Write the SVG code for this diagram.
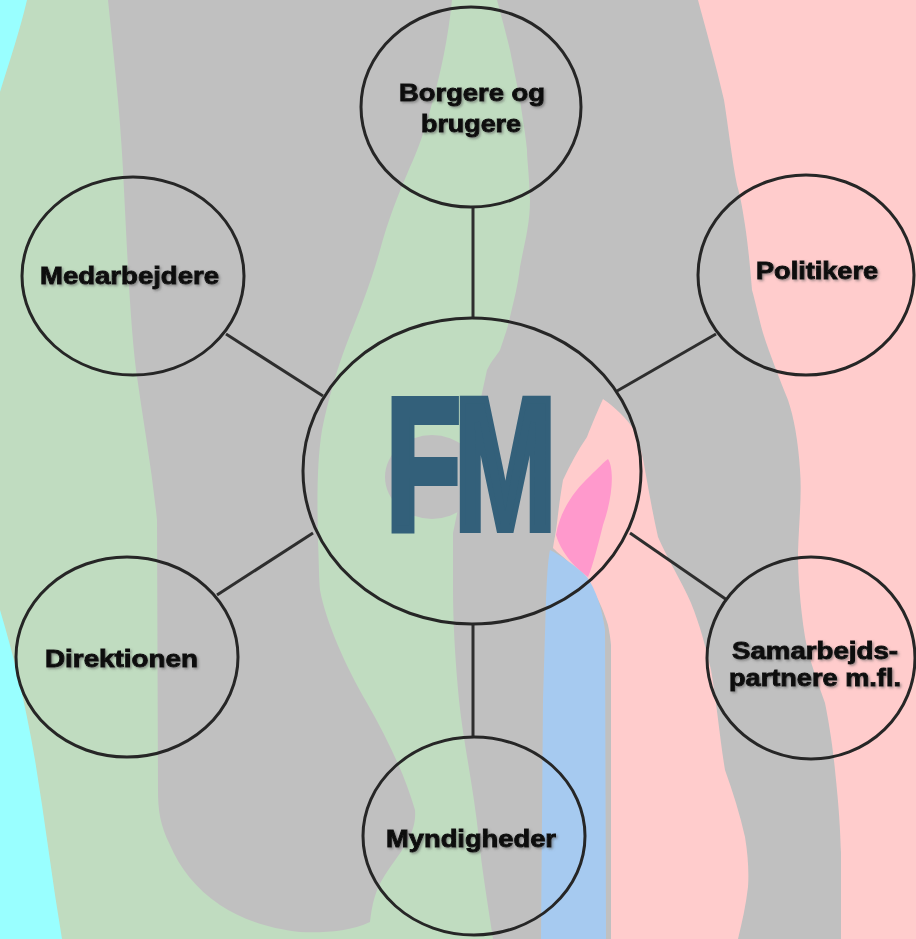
<svg xmlns="http://www.w3.org/2000/svg" width="916" height="939" viewBox="0 0 916 939">
  <defs>
    <style>
      .bg-green { fill: #c0dcc0; }
      .bg-gray { fill: #c0c0c0; }
      .bg-pink { fill: #ffcccc; }
      .bg-cyan { fill: #99ffff; }
      .bg-blue { fill: #a6caf0; }
      .bg-hot { fill: #ff99cc; }
      .node { fill: none; stroke: #262626; stroke-width: 3; }
      .conn { stroke: #2e2e2e; stroke-width: 3; fill: none; }
      .label { font-family: "Liberation Sans", Arial, sans-serif; font-weight: bold; font-size: 24px; fill: #111111; stroke: #111111; stroke-width: 0.9; text-anchor: start; filter: url(#shadow); }
      .fm { font-family: "Liberation Sans", Arial, sans-serif; font-weight: bold; font-size: 187px; fill: #33607a; stroke: #33607a; stroke-width: 8; stroke-linejoin: miter; }
    </style>
    <filter id="shadow" x="-10%" y="-30%" width="120%" height="160%">
      <feDropShadow dx="1.5" dy="1.5" stdDeviation="0.8" flood-color="#555555" flood-opacity="0.55"/>
    </filter>
  </defs>

  <g id="background">
    <rect class="bg-green" x="0" y="0" width="916" height="939"/>
    <path class="bg-cyan" d="M0,0 L27,0 C20,30 10,60 0,92 Z"/>
    <path class="bg-cyan" d="M0,610 C12,650 25,700 35,760 C45,820 52,880 62,939 L0,939 Z"/>
    <path class="bg-gray" d="M108,0 L452,0 C448,40 440,75 433,100 C425,130 418,150 410,167 C398,195 388,220 380,250 C370,285 360,310 350,335 C338,365 328,400 322,430 C317,460 317,500 318,540 C319,565 319,580 320,590 C326,622 345,665 367,703 C387,738 405,775 415,810 C417,835 400,852 385,875 C375,890 372,905 370,922 C350,932 320,933 300,932 C265,928 240,918 220,905 C195,888 180,868 170,845 C160,825 158,810 158,790 L157,520 C152,470 143,420 136,370 C130,320 127,250 123,170 C120,110 113,50 108,0 Z"/>
    <ellipse class="bg-gray" cx="432" cy="477" rx="47" ry="42"/>
    <path class="bg-gray" d="M497,0 L916,0 L916,939 L493,939 C488,905 482,870 479,840 C474,790 463,740 459,700 C455,660 453,620 453,590 L453,533 C462,490 476,420 487,370 C492,360 497,355 500,350 C505,335 508,327 510,317 C514,300 518,285 520,267 C524,245 530,225 530,200 C529,170 527,160 527,150 C525,130 522,115 520,100 C516,80 513,65 510,50 C506,33 501,15 497,0 Z"/>
    <path class="bg-pink" d="M698,0 L916,0 L916,939 L841,939 L841,853 C840,815 837,790 835,770 C832,740 828,718 825,703 C815,675 808,655 805,637 C800,605 798,575 798,553 C799,520 802,495 800,470 C798,440 794,418 788,400 C780,380 770,355 763,333 C758,315 755,300 752,290 C750,265 748,245 745,225 C742,205 740,195 737,185 C732,160 728,125 724,100 C716,65 706,30 698,0 Z"/>
    <path class="bg-pink" d="M603,399 C610,404 615,408 620,413 C627,420 632,426 636,433 C640,445 643,458 645,470 C649,492 653,515 658,537 C668,560 682,582 691,603 C700,625 706,648 711,670 C717,705 720,740 725,770 C733,792 740,815 745,837 C748,855 749,872 748,887 C746,905 742,922 738,939 L611,939 L611,645 C610,635 609,630 608,625 C604,612 600,603 594,592 C585,578 573,566 562,556 C557,552 555,550 553,548 C554,540 556,532 557,523 C559,505 561,492 563,480 C570,465 578,450 587,437 C592,424 598,410 603,399 Z"/>
    <path class="bg-hot" d="M608,459 C615,470 612,500 603,525 C598,545 593,565 588,577 C578,570 562,555 556,535 C560,510 575,490 590,476 C598,468 604,462 608,459 Z"/>
    <path class="bg-blue" d="M550,550 C560,555 575,565 587,577 C596,590 602,608 605,630 L606,939 L541,939 L543,700 L546,600 C547,575 548,560 550,550 Z"/>
  </g>

  <g id="connectors">
    <line class="conn" x1="473" y1="207" x2="473" y2="318"/>
    <line class="conn" x1="226" y1="334" x2="323" y2="396"/>
    <line class="conn" x1="716" y1="334" x2="617" y2="391"/>
    <line class="conn" x1="217" y1="595" x2="313" y2="533"/>
    <line class="conn" x1="630" y1="533" x2="727" y2="600"/>
    <line class="conn" x1="473" y1="625" x2="473" y2="737"/>
  </g>

  <g id="node-fm">
    <ellipse class="node" cx="472" cy="471" rx="169" ry="153"/>
    <text class="fm" transform="translate(386,529) scale(0.655,1)" x="0" y="0" letter-spacing="-10">FM</text>
  </g>

  <g id="node-borgere">
    <ellipse class="node" cx="471" cy="107" rx="110" ry="100"/>
    <text class="label" x="399" y="101" textLength="146" lengthAdjust="spacingAndGlyphs">Borgere og</text>
    <text class="label" x="421" y="132" textLength="100" lengthAdjust="spacingAndGlyphs">brugere</text>
  </g>

  <g id="node-medarbejdere">
    <ellipse class="node" cx="133" cy="276" rx="111" ry="99"/>
    <text class="label" x="40" y="284" textLength="179" lengthAdjust="spacingAndGlyphs">Medarbejdere</text>
  </g>

  <g id="node-politikere">
    <ellipse class="node" cx="806" cy="275" rx="108" ry="100"/>
    <text class="label" x="756" y="279" textLength="122" lengthAdjust="spacingAndGlyphs">Politikere</text>
  </g>

  <g id="node-direktionen">
    <ellipse class="node" cx="127" cy="657" rx="111" ry="100"/>
    <text class="label" x="45" y="667" textLength="153" lengthAdjust="spacingAndGlyphs">Direktionen</text>
  </g>

  <g id="node-samarbejdspartnere">
    <ellipse class="node" cx="811" cy="658" rx="104" ry="101"/>
    <text class="label" x="732" y="659" textLength="166" lengthAdjust="spacingAndGlyphs">Samarbejds-</text>
    <text class="label" x="729" y="686" textLength="172" lengthAdjust="spacingAndGlyphs">partnere m.fl.</text>
  </g>

  <g id="node-myndigheder">
    <ellipse class="node" cx="474" cy="836" rx="111" ry="99"/>
    <text class="label" x="386" y="847" textLength="170" lengthAdjust="spacingAndGlyphs">Myndigheder</text>
  </g>
</svg>
